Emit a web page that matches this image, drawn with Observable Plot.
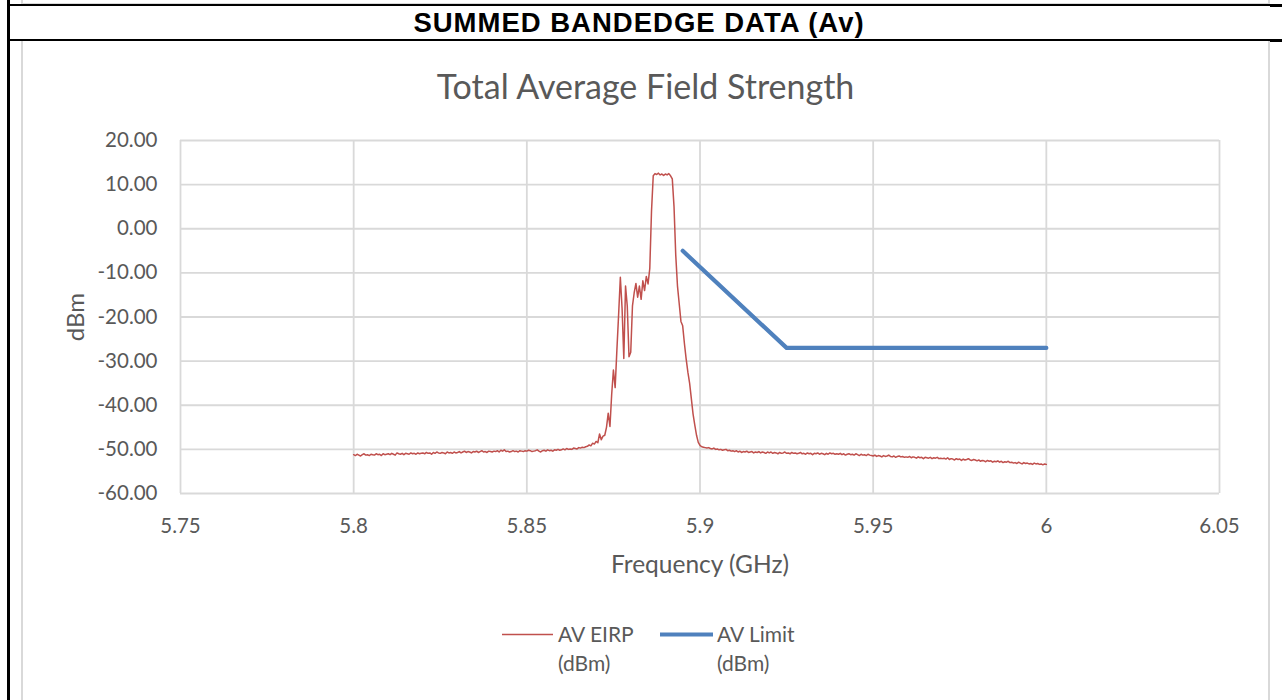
<!DOCTYPE html>
<html>
<head>
<meta charset="utf-8">
<script src="https://cdn.jsdelivr.net/npm/d3@7"></script>
<script src="https://cdn.jsdelivr.net/npm/@observablehq/plot@0.6"></script>
<style>
  html, body { margin: 0; padding: 0; background: #fff; }
  #page { position: relative; width: 1282px; height: 700px; overflow: hidden; font-family: Lato, "Open Sans", sans-serif; color: #595959; }
  .abs { position: absolute; }
  #chart { position: absolute; left: 0; top: 0; }
  .leg { position: absolute; font-size: 21px; line-height: 29px; color: #595959; }
</style>
</head>
<body>
<div id="page">
  <!-- table borders -->
  <div class="abs" style="left:7px;top:0;width:3px;height:700px;background:#000"></div>
  <div class="abs" style="left:21px;top:0;width:2px;height:4px;background:#d9d9d9"></div>
  <div class="abs" style="left:1268px;top:0;width:2px;height:4px;background:#d9d9d9"></div>
  <div class="abs" style="left:21px;top:3px;width:1249px;height:1px;background:#d9d9d9"></div>
  <div class="abs" style="left:8px;top:4px;width:1262px;height:2px;background:#000"></div>
  <div class="abs" style="left:1270px;top:4px;width:12px;height:3px;background:#000"></div>
  <div class="abs" style="left:8px;top:39px;width:1262px;height:2px;background:#000"></div>
  <div class="abs" style="left:1270px;top:39px;width:12px;height:3px;background:#000"></div>
  <!-- chart box -->
  <div class="abs" style="left:21px;top:41px;width:2px;height:659px;background:#d9d9d9"></div>
  <div class="abs" style="left:1268px;top:41px;width:2px;height:659px;background:#d9d9d9"></div>
  <!-- header -->
  <div class="abs" style="left:8px;top:6px;width:1262px;height:33px;display:flex;align-items:center;justify-content:center;font-family:'Liberation Sans',Arial,sans-serif;font-weight:bold;font-size:27.5px;letter-spacing:1px;color:#000;">SUMMED BANDEDGE DATA (Av)</div>
  <!-- chart title -->
  <div class="abs" style="left:23px;top:64px;width:1245px;text-align:center;font-size:34px;line-height:44px;color:#595959;">Total Average Field Strength</div>
  <!-- axis titles -->
  <div class="abs" style="left:450px;top:549px;width:500px;text-align:center;font-size:24.5px;line-height:30px;">Frequency (GHz)</div>
  <div class="abs" style="left:25px;top:302px;width:100px;text-align:center;font-size:24px;line-height:30px;transform:rotate(-90deg);">dBm</div>
  <!-- legend -->
  <svg class="abs" style="left:0;top:0" width="1282" height="700">
    <line id="legE" x1="502" x2="553" y1="634.5" y2="634.5" stroke="#c0504d" stroke-width="1.4"></line>
    <line id="legL" x1="660" x2="713" y1="634.5" y2="634.5" stroke="#4f81bd" stroke-width="4.2"></line>
  </svg>
  <div class="leg" id="legEt" style="left:558px;top:619px;"></div>
  <div class="leg" id="legLt" style="left:717px;top:619px;"></div>
  <div id="chart"></div>
</div>
<script>
// ---- data ----
const seriesNames = ["AV EIRP (dBm)", "AV Limit (dBm)"];
const xTicks = [5.75, 5.8, 5.85, 5.9, 5.95, 6, 6.05];
const xTickLabels = ["5.75", "5.8", "5.85", "5.9", "5.95", "6", "6.05"];
const yTicks = [20, 10, 0, -10, -20, -30, -40, -50, -60];

// AV EIRP sweep: 5.800 GHz to 6.000 GHz, one sample every 0.0005 GHz (rows = 0.01 GHz)
const eirpStartGHz = 5.8;
const eirpStepGHz = 0.0005;
const eirpValues = [
  -51.2,-51.4,-51.1,-51.3,-51.5,-51.2,-51.0,-51.3,-51.2,-51.4,-51.1,-51.2,-51.3,-51.0,-51.2,-51.1,-51.4,-51.0,-51.2,-51.1,
  -51.0,-51.2,-50.9,-51.1,-51.3,-50.8,-51.0,-51.1,-50.9,-51.2,-50.9,-51.0,-51.1,-50.8,-51.0,-50.9,-51.1,-50.8,-51.0,-50.9,
  -50.8,-51.0,-50.7,-50.9,-50.8,-51.1,-50.7,-50.9,-50.6,-50.8,-50.9,-50.7,-50.8,-51.0,-50.6,-50.8,-50.7,-50.9,-50.6,-50.8,
  -50.7,-50.5,-50.8,-50.6,-50.4,-50.7,-50.5,-50.6,-50.8,-50.5,-50.6,-50.4,-50.7,-50.5,-50.3,-50.6,-50.5,-50.7,-50.4,-50.5,
  -50.6,-50.4,-50.5,-50.3,-50.6,-50.2,-50.4,-50.1,-50.5,-50.4,-50.6,-50.5,-50.3,-50.5,-50.4,-50.6,-50.3,-50.4,-50.5,-50.3,
  -50.4,-50.2,-50.3,-50.5,-50.4,-50.3,-50.1,-50.4,-50.6,-50.3,-50.2,-50.4,-50.1,-50.3,-50.2,-50.4,-50.1,-50.2,-50.0,-50.2,
  -50.1,-49.9,-50.1,-49.8,-50.0,-49.9,-50.0,-49.7,-49.8,-49.9,-49.6,-49.7,-49.5,-49.6,-49.4,-49.3,-49.0,-49.2,-48.6,-48.8,
  -48.2,-48.5,-46.5,-47.8,-47.0,-46.8,-45.0,-41.8,-44.8,-37.5,-32.0,-36.0,-27.5,-19.5,-11.0,-18.0,-29.4,-13.0,-17.5,-29.0,
  -28.0,-17.5,-14.5,-12.4,-15.5,-13.0,-16.0,-11.8,-14.0,-10.8,-12.5,-9.0,4.0,12.0,12.5,12.3,12.6,12.2,12.4,12.1,
  12.4,12.2,12.5,12.0,11.3,5.0,-6.0,-13.0,-17.0,-21.0,-22.0,-26.0,-29.5,-32.5,-35.0,-38.5,-42.0,-44.5,-46.8,-48.4,
  -49.1,-49.4,-49.5,-49.6,-49.7,-49.6,-49.8,-49.9,-49.7,-50.0,-49.9,-50.1,-50.0,-50.2,-50.1,-50.0,-50.3,-50.2,-50.4,-50.3,
  -50.5,-50.3,-50.6,-50.4,-50.7,-50.5,-50.6,-50.4,-50.7,-50.6,-50.5,-50.8,-50.6,-50.7,-50.5,-50.8,-50.6,-50.7,-50.9,-50.6,
  -50.8,-50.6,-50.9,-50.7,-50.8,-51.0,-50.7,-50.9,-50.8,-50.6,-50.9,-50.8,-51.0,-50.7,-50.9,-50.8,-51.0,-50.9,-50.7,-51.0,
  -50.9,-51.1,-50.8,-51.0,-50.9,-51.2,-50.9,-51.0,-50.8,-51.1,-50.9,-51.0,-51.2,-50.9,-51.1,-50.8,-51.0,-50.9,-51.1,-51.0,
  -51.1,-50.9,-51.2,-51.0,-51.3,-51.1,-51.0,-51.2,-51.1,-51.3,-51.0,-51.2,-51.4,-51.1,-51.3,-51.2,-51.4,-51.1,-51.3,-51.4,
  -51.5,-51.3,-51.6,-51.4,-51.5,-51.7,-51.4,-51.6,-51.5,-51.3,-51.6,-51.7,-51.5,-51.8,-51.6,-51.5,-51.7,-51.6,-51.8,-51.7,
  -51.8,-51.6,-51.9,-51.7,-51.8,-52.0,-51.7,-51.9,-51.8,-52.1,-51.8,-51.9,-52.0,-51.8,-52.1,-51.9,-52.0,-51.8,-52.1,-52.0,
  -52.1,-52.0,-52.2,-51.9,-52.3,-52.1,-52.2,-52.4,-52.1,-52.3,-52.2,-52.5,-52.2,-52.4,-52.3,-52.1,-52.4,-52.5,-52.3,-52.4,
  -52.6,-52.4,-52.7,-52.5,-52.6,-52.8,-52.5,-52.7,-52.6,-52.9,-52.7,-52.8,-52.6,-52.9,-52.7,-53.0,-52.8,-52.9,-52.7,-53.0,
  -52.9,-53.1,-53.0,-53.2,-52.9,-53.1,-53.3,-53.0,-53.2,-53.1,-53.3,-53.2,-53.4,-53.1,-53.3,-53.2,-53.4,-53.3,-53.5,-53.3,
  -53.4
];

// AV Limit
const limitFreq = [5.895, 5.925, 6.0];
const limitValues = [-5, -27, -27];

// ---- build tables ----
const eirpData = eirpValues.map((v, i) => ({f: eirpStartGHz + i * eirpStepGHz, v}));
const limitData = limitFreq.map((f, i) => ({f, v: limitValues[i]}));

const chart = Plot.plot({
  width: 1282,
  height: 700,
  marginLeft: 180,
  marginRight: 63,
  marginTop: 140,
  marginBottom: 207,
  x: {domain: [5.75, 6.05]},
  y: {domain: [-60, 20]},
  style: {fontFamily: "Lato, 'Open Sans', sans-serif", fontSize: "20.5px", color: "#595959", background: "none"},
  marks: [
    Plot.ruleX(xTicks, {stroke: "#d9d9d9", strokeWidth: 1.8}),
    Plot.ruleY(yTicks, {stroke: "#d9d9d9", strokeWidth: 1.8}),
    Plot.axisX({ticks: xTicks, tickSize: 0, tickPadding: 25, label: null,
      tickFormat: d => xTickLabels[xTicks.indexOf(d)], fill: "#595959"}),
    Plot.axisY({ticks: yTicks, tickSize: 0, tickPadding: 23, label: null,
      tickFormat: d => d.toFixed(2), fill: "#595959"}),
    Plot.line(eirpData, {x: "f", y: "v", stroke: "#c0504d", strokeWidth: 1.5}),
    Plot.line(limitData, {x: "f", y: "v", stroke: "#4f81bd", strokeWidth: 4.2})
  ]
});
document.getElementById("chart").appendChild(chart);

document.getElementById("legEt").innerHTML = "AV EIRP<br>(dBm)";
document.getElementById("legLt").innerHTML = "AV Limit<br>(dBm)";
</script>
</body>
</html>
